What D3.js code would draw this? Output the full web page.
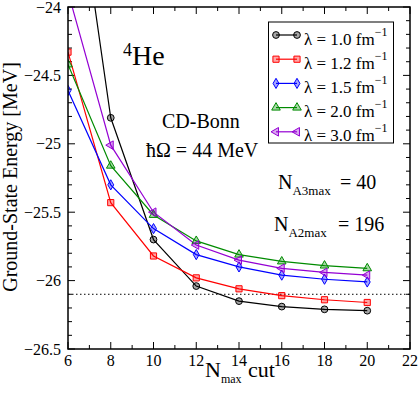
<!DOCTYPE html>
<html lang="en">
<head>
    <meta charset="UTF-8">
    <title>4He ground-state energy vs Nmax cut</title>
    <script src="https://d3js.org/d3.v7.min.js"></script>
    <style>
        body { margin: 0; background: #fff; }
        text { font-family: "Liberation Serif", "Times New Roman", serif; fill: #000; }
    </style>
</head>
<body>
    <script>
        const width = 420;
        const height = 394;

        // data
        const nmax = [6, 8, 10, 12, 14, 16, 18, 20];
        const e10 = [-22.63, -24.81, -25.70, -26.04, -26.15, -26.19, -26.21, -26.22];
        const e12 = [-24.33, -25.43, -25.82, -25.98, -26.06, -26.11, -26.14, -26.16];
        const e15 = [-24.61, -25.30, -25.62, -25.81, -25.90, -25.96, -25.99, -26.01];
        const e20 = [-24.42, -25.16, -25.52, -25.71, -25.81, -25.86, -25.89, -25.91];
        const e30 = [-23.89, -25.01, -25.50, -25.74, -25.85, -25.91, -25.94, -25.96];
        const lambdas = ["1.0", "1.2", "1.5", "2.0", "3.0"];
        const xTicks = [6, 8, 10, 12, 14, 16, 18, 20, 22];
        const yTicks = [-24, -24.5, -25, -25.5, -26, -26.5];
        const refLine = -26.1;

        const series = [
            {vals: e10, color: "#000000", sym: d3.symbolCircle, size: 36, rot: 0},
            {vals: e12, color: "#ff0000", sym: d3.symbolSquare, size: 38, rot: 0},
            {vals: e15, color: "#0000ff", sym: d3.symbolDiamond, size: 30, rot: 0},
            {vals: e20, color: "#008b00", sym: d3.symbolTriangle, size: 32, rot: 0},
            {vals: e30, color: "#9400d3", sym: d3.symbolTriangle, size: 32, rot: -90}
        ];

        const m = {left: 68, right: 410, top: 7, bottom: 349};

        const x = d3.scaleLinear().domain([6, 22]).range([m.left, m.right]);
        const y = d3.scaleLinear().domain([-26.5, -24]).range([m.bottom, m.top]);

        const svg = d3.select("body").append("svg")
            .attr("width", width)
            .attr("height", height);

        svg.append("defs").append("clipPath").attr("id", "clip")
            .append("rect")
            .attr("x", m.left).attr("y", m.top)
            .attr("width", m.right - m.left).attr("height", m.bottom - m.top);

        // ticks (inward, on all four sides)
        const ticks = svg.append("g").attr("stroke", "#000").attr("stroke-width", 1);
        const xMinor = d3.range(6, 22.01, 1);
        const yMinor = d3.range(0, 26).map(i => -26.5 + i * 0.1);
        xMinor.forEach(v => {
            const len = v % 2 === 0 ? 7 : 4;
            ticks.append("line").attr("x1", x(v)).attr("x2", x(v))
                .attr("y1", m.bottom).attr("y2", m.bottom - len);
            ticks.append("line").attr("x1", x(v)).attr("x2", x(v))
                .attr("y1", m.top).attr("y2", m.top + len);
        });
        yMinor.forEach((v, i) => {
            const len = i % 5 === 0 ? 7 : 4;
            ticks.append("line").attr("y1", y(v)).attr("y2", y(v))
                .attr("x1", m.left).attr("x2", m.left + len);
            ticks.append("line").attr("y1", y(v)).attr("y2", y(v))
                .attr("x1", m.right).attr("x2", m.right - len);
        });

        // reference line
        svg.append("line")
            .attr("x1", x(6)).attr("x2", x(22))
            .attr("y1", y(refLine)).attr("y2", y(refLine))
            .attr("stroke", "#000").attr("stroke-width", 1)
            .attr("stroke-dasharray", "1.5,2.5");

        // series lines and markers
        const line = d3.line().x((d, i) => x(nmax[i])).y(d => y(d));
        const plot = svg.append("g").attr("clip-path", "url(#clip)");

        series.forEach(s => {
            plot.append("path")
                .attr("d", line(s.vals))
                .attr("fill", "none")
                .attr("stroke", s.color)
                .attr("stroke-width", 1.2);
        });
        series.forEach(s => {
            plot.selectAll(null)
                .data(s.vals)
                .join("path")
                .attr("d", d3.symbol(s.sym, s.size))
                .attr("transform", (d, i) => `translate(${x(nmax[i])},${y(d)}) rotate(${s.rot})`)
                .attr("fill", s.color)
                .attr("fill-opacity", 0.35)
                .attr("stroke", s.color)
                .attr("stroke-width", 1);
        });

        // frame
        svg.append("rect")
            .attr("x", m.left).attr("y", m.top)
            .attr("width", m.right - m.left).attr("height", m.bottom - m.top)
            .attr("fill", "none").attr("stroke", "#000").attr("stroke-width", 1.5);

        // tick labels
        svg.append("g").selectAll("text")
            .data(xTicks)
            .join("text")
            .attr("x", d => x(d))
            .attr("y", 366)
            .attr("text-anchor", "middle")
            .attr("font-size", 16)
            .text(d => d);

        svg.append("g").selectAll("text")
            .data(yTicks)
            .join("text")
            .attr("x", 61)
            .attr("y", d => y(d) + 5.5)
            .attr("text-anchor", "end")
            .attr("font-size", 16)
            .text(d => "\u2212" + Math.abs(d));

        // axis titles
        const xl = svg.append("text")
            .attr("x", 205).attr("y", 377)
            .attr("font-size", 22);
        xl.append("tspan").text("N");
        xl.append("tspan").attr("font-size", 12).attr("dy", 6).text("max");
        xl.append("tspan").attr("x", 248).attr("dy", -6).text("cut");

        svg.append("text")
            .attr("transform", "translate(17,177) rotate(-90)")
            .attr("text-anchor", "middle")
            .attr("font-size", 20)
            .text("Ground-State Energy [MeV]");

        // annotations
        const he = svg.append("text").attr("x", 123).attr("y", 65).attr("font-size", 28);
        he.append("tspan").attr("font-size", 18).attr("dy", -9).text("4");
        he.append("tspan").attr("dy", 9).text("He");

        svg.append("text").attr("x", 162).attr("y", 128).attr("font-size", 20).text("CD-Bonn");
        svg.append("text").attr("x", 146).attr("y", 157).attr("font-size", 20).text("\u0127\u03A9 = 44 MeV");

        const n3 = svg.append("text").attr("x", 278).attr("y", 189).attr("font-size", 20);
        n3.append("tspan").text("N");
        n3.append("tspan").attr("font-size", 13).attr("dy", 6).text("A3max");
        n3.append("tspan").attr("x", 340).attr("dy", -6).text("= 40");

        const n2 = svg.append("text").attr("x", 274).attr("y", 231).attr("font-size", 20);
        n2.append("tspan").text("N");
        n2.append("tspan").attr("font-size", 13).attr("dy", 6).text("A2max");
        n2.append("tspan").attr("x", 338).attr("dy", -6).text("= 196");

        // legend
        const lg = svg.append("g");
        lg.append("rect")
            .attr("x", 268.5).attr("y", 22)
            .attr("width", 125).attr("height", 121)
            .attr("fill", "#fff").attr("stroke", "#000").attr("stroke-width", 1);

        series.forEach((s, i) => {
            const ly = 35 + i * 24.2;
            lg.append("line")
                .attr("x1", 276).attr("x2", 297)
                .attr("y1", ly).attr("y2", ly)
                .attr("stroke", s.color).attr("stroke-width", 1.2);
            [276, 297].forEach(px => {
                lg.append("path")
                    .attr("d", d3.symbol(s.sym, s.size))
                    .attr("transform", `translate(${px},${ly}) rotate(${s.rot})`)
                    .attr("fill", s.color).attr("fill-opacity", 0.35)
                    .attr("stroke", s.color).attr("stroke-width", 1);
            });
            const t = lg.append("text")
                .attr("x", 304).attr("y", ly + 9.5)
                .attr("font-size", 17);
            t.append("tspan").text(`\u03BB = ${lambdas[i]} fm`);
            t.append("tspan").attr("font-size", 12).attr("dy", -9).text("\u22121");
        });
    </script>
</body>
</html>
